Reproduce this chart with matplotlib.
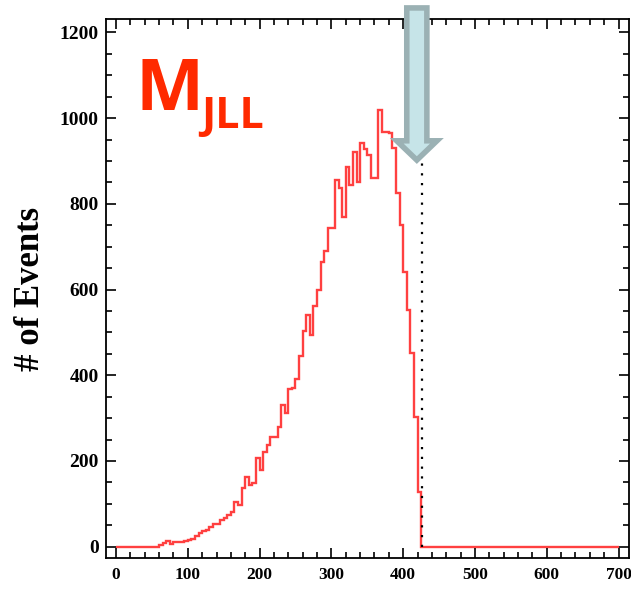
import numpy as np
import matplotlib
matplotlib.use("Agg")
import matplotlib.pyplot as plt
from matplotlib.patches import FancyArrow
from matplotlib.ticker import MultipleLocator
from matplotlib.font_manager import FontProperties

# histogram of M_JLL, 5 GeV bins from 0 to 700
bin_width = 5
x_max = 700
counts_low = [0] * 12  # 0-60: empty
counts_rise = [5, 8, 14, 6, 10, 10, 12, 13, 16, 19, 25, 33, 37, 40, 47, 54,
               53, 62, 66, 74, 82, 105, 97, 136, 163, 145, 148, 208, 179, 222,
               237, 255, 255, 280, 331, 312, 367, 370, 391, 445, 503, 541, 495,
               561, 600, 665, 689, 743, 743, 855, 836, 770, 886, 843, 922, 850,
               942, 927, 914, 860, 860, 1019, 968, 968, 965, 930, 825, 751, 642,
               552, 451, 303, 128]
counts_high = [0] * 55  # 425-700: empty
counts = np.array(counts_low + counts_rise + counts_high)
edges = np.arange(0, x_max + bin_width, bin_width)

cut_value = 426      # dotted cut line
arrow_x = 419

fig = plt.figure(figsize=(6.31, 5.89), dpi=100)
ax = fig.add_axes([0.1672, 0.0531, 0.8296, 0.9138])

ax.stairs(counts, edges, color='#ff4040', lw=1.7, baseline=None)
ax.plot([cut_value, cut_value], [0, 907], color='black', lw=1.6,
        dashes=(1, 3.4))

ax.set_xlim(-14.6, 714.5)
ax.set_ylim(-25.7, 1230)

ax.xaxis.set_major_locator(MultipleLocator(100))
ax.xaxis.set_minor_locator(MultipleLocator(20))
ax.yaxis.set_major_locator(MultipleLocator(200))
ax.yaxis.set_minor_locator(MultipleLocator(50))
ax.tick_params(which='both', direction='in', top=True, right=True,
               width=1.2, colors='black')
ax.tick_params(which='major', length=7)
ax.tick_params(which='minor', length=4)
for sp in ax.spines.values():
    sp.set_linewidth(1.3)

for lab in ax.get_yticklabels():
    lab.set_fontproperties(FontProperties(family='Liberation Serif', weight='bold', size=14))
for lab in ax.get_xticklabels():
    lab.set_fontproperties(FontProperties(family='Liberation Serif', weight='bold', size=12.5))
ax.tick_params(axis='x', pad=7)
ax.tick_params(axis='y', pad=5)

ax.set_ylabel('# of Events', family='Liberation Serif', weight='bold',
              size=25, labelpad=9)

# big label
fig.text(136 / 631, 1 - 110 / 589, 'M', color='#ff2a00', family='Open Sans',
         weight='bold', size=52, va='baseline', ha='left')
fig.text(201 / 631, 1 - 128 / 589, 'JLL', color='#ff2a00', family='Open Sans',
         weight='bold', size=31, va='baseline', ha='left')

# arrow pointing at the cut
arr = FancyArrow(arrow_x, 1257, 0, -355, width=28, head_width=56,
                 head_length=45, length_includes_head=True,
                 facecolor='#c6e4e8', edgecolor='#9bb1b4', lw=4,
                 clip_on=False, zorder=5)
ax.add_patch(arr)

fig.savefig('out.png', dpi=100)
